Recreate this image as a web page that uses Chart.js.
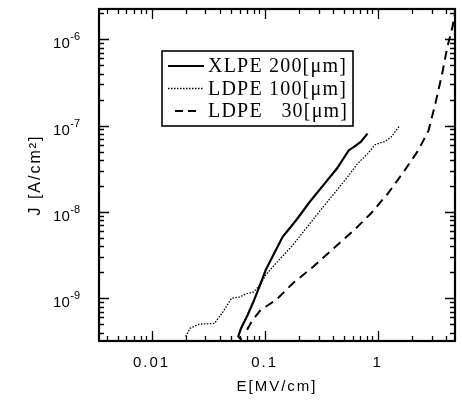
<!DOCTYPE html>
<html>
<head>
<meta charset="utf-8">
<script src="https://cdn.jsdelivr.net/npm/chart.js@4.4.1/dist/chart.umd.min.js"></script>
<style>
  html, body { margin: 0; padding: 0; background: #fff; }
  #wrap { width: 462px; height: 402px; }
</style>
</head>
<body>
<div id="wrap"><canvas id="c" width="462" height="402"></canvas></div>
<script>
// ---- data ----
const seriesLabels = ["XLPE 200[\u03bcm]", "LDPE 100[\u03bcm]", "LDPE   30[\u03bcm]"];

const xlpeE = [0.0625, 0.0585, 0.0618, 0.0706, 0.0807, 0.0922, 0.102, 0.117, 0.144, 0.190, 0.251, 0.331, 0.436, 0.556, 0.617, 0.708, 0.813];
const xlpeJ = [3.3e-10, 3.6e-10, 4.46e-10, 6.35e-10, 9.5e-10, 1.48e-9, 2.1e-9, 3.0e-9, 5.1e-9, 8.0e-9, 1.31e-8, 2.04e-8, 3.18e-8, 5.18e-8, 5.66e-8, 6.47e-8, 8.07e-8];

const ldpe100E = [0.0200, 0.0220, 0.0265, 0.0360, 0.0430, 0.0510, 0.0600, 0.0680, 0.0800, 0.0920, 0.102, 0.135, 0.177, 0.234, 0.308, 0.407, 0.537, 0.661, 0.813, 0.95, 1.05, 1.15, 1.32, 1.57];
const ldpe100J = [3.6e-10, 4.5e-10, 5.0e-10, 5.1e-10, 7.0e-10, 1.0e-9, 1.03e-9, 1.12e-9, 1.18e-9, 1.45e-9, 1.85e-9, 2.8e-9, 4.1e-9, 6.5e-9, 1.02e-8, 1.6e-8, 2.5e-8, 3.6e-8, 4.7e-8, 6.0e-8, 6.3e-8, 6.5e-8, 7.4e-8, 1.0e-7];

const ldpe30E = [0.070, 0.078, 0.0922, 0.126, 0.177, 0.269, 0.407, 0.617, 0.871, 1.23, 1.74, 2.29, 2.82, 3.24, 3.72, 4.13, 4.6, 4.75];
const ldpe30J = [4.3e-10, 5.56e-10, 7.3e-10, 9.5e-10, 1.48e-9, 2.31e-9, 3.76e-9, 6.13e-9, 9.57e-9, 1.63e-8, 3.04e-8, 5.18e-8, 8.8e-8, 1.8e-7, 4.0e-7, 8.1e-7, 1.4e-6, 1.9e-6];

const xTickValues = [0.01, 0.1, 1];
const xTickLabels = ["0.01", "0.1", "1"];
const yTickValues = [1e-9, 1e-8, 1e-7, 1e-6];
const yTickBase = "10";
const yTickExponents = ["-9", "-8", "-7", "-6"];

const xMin = 0.00343, xMax = 4.83;
const yMin = 3.19e-10, yMax = 2.24e-6;

// ---- helpers ----
function pts(xs, ys) { return xs.map((x, i) => ({ x: x, y: ys[i] })); }

const SANS = '"Liberation Sans", Arial, Helvetica, sans-serif';
const SERIF = '"Liberation Serif", "Times New Roman", serif';

// wider letter spacing for axis text (scanned look)
const spacingPlugin = {
  id: 'spacing',
  beforeDraw(chart) { chart.ctx.letterSpacing = '2px'; },
  afterDraw(chart) { chart.ctx.letterSpacing = '0px'; }
};

// inward ticks on four sides + frame + y tick labels with exponent
const framePlugin = {
  id: 'frame',
  afterDraw(chart) {
    const ctx = chart.ctx;
    const a = chart.chartArea;
    const xs = chart.scales.x, ys = chart.scales.y;
    ctx.save();
    ctx.letterSpacing = '0px';
    ctx.strokeStyle = '#000';
    ctx.lineWidth = 1.3;
    ctx.beginPath();
    for (let d = -3; d <= 1; d++) {
      for (let k = 1; k <= 9; k++) {
        const v = k * Math.pow(10, d);
        if (v <= xMin || v >= xMax) continue;
        const px = Math.round(xs.getPixelForValue(v)) + 0.5;
        const len = (k === 1) ? 10 : 5;
        ctx.moveTo(px, a.bottom); ctx.lineTo(px, a.bottom - len);
        ctx.moveTo(px, a.top); ctx.lineTo(px, a.top + len);
      }
    }
    for (let d = -10; d <= -6; d++) {
      for (let k = 1; k <= 9; k++) {
        const v = k * Math.pow(10, d);
        if (v <= yMin || v >= yMax) continue;
        const py = Math.round(ys.getPixelForValue(v)) + 0.5;
        const len = (k === 1) ? 10 : 5;
        ctx.moveTo(a.left, py); ctx.lineTo(a.left + len, py);
        ctx.moveTo(a.right, py); ctx.lineTo(a.right - len, py);
      }
    }
    ctx.stroke();
    ctx.lineWidth = 2.2;
    ctx.strokeRect(a.left, a.top, a.right - a.left, a.bottom - a.top);

    // y tick labels: "10" with raised exponent
    ctx.fillStyle = '#000';
    ctx.textBaseline = 'alphabetic';
    yTickValues.forEach((v, i) => {
      const py = ys.getPixelForValue(v);
      const right = a.left - 19;
      ctx.font = '11px ' + SANS;
      const we = ctx.measureText(yTickExponents[i]).width;
      ctx.textAlign = 'left';
      ctx.fillText(yTickExponents[i], right - we, py + 1);
      ctx.font = '15px ' + SANS;
      ctx.textAlign = 'right';
      ctx.fillText(yTickBase, right - we - 0.5, py + 9);
    });
    ctx.restore();
  }
};

// boxed legend inside plot
const legendPlugin = {
  id: 'boxLegend',
  afterDraw(chart) {
    const ctx = chart.ctx;
    const bx = 162, by = 51, bw = 191, bh = 75;
    ctx.save();
    ctx.fillStyle = '#fff';
    ctx.fillRect(bx, by, bw, bh);
    ctx.strokeStyle = '#000';
    ctx.lineWidth = 1.6;
    ctx.strokeRect(bx, by, bw, bh);
    chart.data.datasets.forEach((ds, i) => {
      const y = by + 15 + i * 22.5;
      const dash = ds.borderDash || [];
      const longDash = dash.length && dash[0] > 3;
      ctx.beginPath();
      ctx.setLineDash(longDash ? [8, 5] : dash);
      ctx.lineWidth = ds.borderWidth;
      ctx.strokeStyle = ds.borderColor;
      if (longDash) { ctx.moveTo(175, y); ctx.lineTo(197, y); }
      else { ctx.moveTo(168, y); ctx.lineTo(204, y); }
      ctx.stroke();
      ctx.setLineDash([]);
      ctx.fillStyle = '#000';
      ctx.letterSpacing = '1.2px';
      ctx.font = '20px ' + SERIF;
      ctx.textBaseline = 'middle';
      ctx.textAlign = 'left';
      ctx.fillText(ds.label, 208, y + 1);
    });
    ctx.restore();
  }
};

new Chart(document.getElementById('c'), {
  type: 'line',
  data: {
    datasets: [
      { label: seriesLabels[0], data: pts(xlpeE, xlpeJ), borderColor: '#000', borderWidth: 2.2, borderDash: [], pointRadius: 0, tension: 0, fill: false },
      { label: seriesLabels[1], data: pts(ldpe100E, ldpe100J), borderColor: '#000', borderWidth: 1.3, borderDash: [1.5, 1.5], pointRadius: 0, tension: 0, fill: false },
      { label: seriesLabels[2], data: pts(ldpe30E, ldpe30J), borderColor: '#000', borderWidth: 2, borderDash: [9, 6], pointRadius: 0, tension: 0, fill: false }
    ]
  },
  options: {
    responsive: false,
    animation: false,
    devicePixelRatio: 1,
    layout: { padding: { left: 0, top: 9, right: 7, bottom: 0 } },
    plugins: { legend: { display: false }, tooltip: { enabled: false } },
    scales: {
      x: {
        type: 'logarithmic',
        position: 'bottom',
        min: xMin, max: xMax,
        afterBuildTicks: (s) => { s.ticks = xTickValues.map(v => ({ value: v })); },
        afterFit: (s) => { s.height = 61; s.paddingLeft = 0; s.paddingRight = 0; },
        grid: { display: false, drawTicks: false },
        border: { display: false },
        ticks: {
          color: '#000', padding: 13, maxRotation: 0, autoSkip: false,
          font: { family: SANS, size: 15 },
          callback: (v) => { const i = xTickValues.indexOf(v); return i >= 0 ? xTickLabels[i] : ''; }
        },
        title: { display: true, text: 'E[MV/cm]', color: '#000', font: { family: SANS, size: 15 }, padding: { top: 0, bottom: 6 } }
      },
      y: {
        type: 'logarithmic',
        position: 'left',
        min: yMin, max: yMax,
        afterBuildTicks: (s) => { s.ticks = yTickValues.map(v => ({ value: v })); },
        afterFit: (s) => { s.width = 99; s.paddingTop = 0; s.paddingBottom = 0; },
        grid: { display: false, drawTicks: false },
        border: { display: false },
        ticks: { display: false },
        title: { display: true, text: 'J [A/cm\u00B2]', color: '#000', font: { family: SANS, size: 16 }, padding: { top: 26, bottom: 0 } }
      }
    }
  },
  plugins: [spacingPlugin, framePlugin, legendPlugin]
});
</script>
</body>
</html>
